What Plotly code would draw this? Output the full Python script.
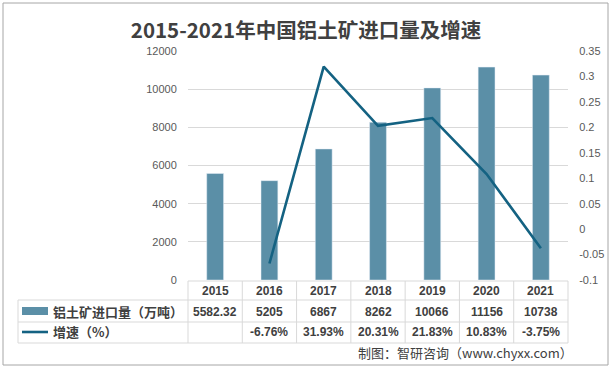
import plotly.graph_objects as go

years = ["2015", "2016", "2017", "2018", "2019", "2020", "2021"]
imports = [5582.32, 5205, 6867, 8262, 10066, 11156, 10738]
growth = [None, -0.0676, 0.3193, 0.2031, 0.2183, 0.1083, -0.0375]
series_names = ["铝土矿进口量（万吨）", "增速（%）"]
title_text = "2015-2021年中国铝土矿进口量及增速"
source_text = "制图：智研咨询（www.chyxx.com）"
y2_ticks = [0.35, 0.3, 0.25, 0.2, 0.15, 0.1, 0.05, 0, -0.05, -0.1]

W, H = 612, 370
L, R, T, B = 188, 568, 51, 280  # plot area in pixels

BAR_C = "#5B8FA7"
LINE_C = "#146282"
GRID_C = "#D9D9D9"
TXT_C = "#404040"
FONT = "Liberation Sans, Noto Sans CJK SC, sans-serif"
CJK = "Noto Sans CJK SC, sans-serif"


def px(xp):
    return (xp - L) / (R - L)


def py(yp):
    return (B - yp) / (B - T)


xs = list(range(len(years)))
fig = go.Figure()
fig.add_trace(go.Bar(x=xs, y=imports, marker_color=BAR_C, width=0.31,
                     name=series_names[0], yaxis="y"))
fig.add_trace(go.Scatter(x=xs, y=growth, mode="lines", line=dict(color=LINE_C, width=2.6),
                         name=series_names[1], yaxis="y2", connectgaps=False))

shapes = []
line_style = dict(color=GRID_C, width=1)
for y_line, x_start in [(281, L), (300, 18), (322, 18), (343, 18)]:
    shapes.append(dict(type="line", xref="paper", yref="paper", x0=px(x_start), x1=px(R),
                       y0=py(y_line), y1=py(y_line), line=line_style))
for i in range(len(years) + 1):
    xp = L + i * (R - L) / len(years)
    shapes.append(dict(type="line", xref="paper", yref="paper", x0=px(xp), x1=px(xp),
                       y0=py(281), y1=py(343), line=line_style))
shapes.append(dict(type="line", xref="paper", yref="paper", x0=px(18), x1=px(18),
                   y0=py(300), y1=py(343), line=line_style))
shapes.append(dict(type="rect", xref="paper", yref="paper", x0=px(22), x1=px(48),
                   y0=py(315), y1=py(307), fillcolor=BAR_C, line=dict(width=0)))
shapes.append(dict(type="line", xref="paper", yref="paper", x0=px(22), x1=px(48),
                   y0=py(332), y1=py(332), line=dict(color=LINE_C, width=2.6)))
shapes.append(dict(type="rect", xref="paper", yref="paper", x0=px(3), x1=px(608),
                   y0=py(365), y1=py(3), line=dict(color="#A6A6A6", width=1)))

ann = []
for i, yr in enumerate(years):
    ann.append(dict(x=i, xref="x", y=py(291), yref="paper", yanchor="middle",
                    text=f"<b>{yr}</b>",
                    showarrow=False, font=dict(size=12, color=TXT_C, family=FONT)))
    ann.append(dict(x=i, xref="x", y=py(312), yref="paper", yanchor="middle",
                    text=f"<b>{imports[i]:g}</b>",
                    showarrow=False, font=dict(size=12, color=TXT_C, family=FONT)))
    if growth[i] is not None:
        ann.append(dict(x=i, xref="x", y=py(332), yref="paper", yanchor="middle",
                        text=f"<b>{growth[i]*100:.2f}%</b>",
                        showarrow=False, font=dict(size=12, color=TXT_C, family=FONT)))
ann.append(dict(x=px(51), xref="paper", y=py(311), yref="paper", yanchor="middle",
                text=f"<b>{series_names[0]}</b>",
                xanchor="left", showarrow=False, font=dict(size=13, color=TXT_C, family=CJK)))
ann.append(dict(x=px(51), xref="paper", y=py(331), yref="paper", yanchor="middle",
                text=f"<b>{series_names[1]}</b>",
                xanchor="left", showarrow=False, font=dict(size=13, color=TXT_C, family=CJK)))
ann.append(dict(x=px(575), xref="paper", y=py(352), yref="paper", yanchor="middle",
                text=source_text,
                xanchor="right", showarrow=False, font=dict(size=13, color=TXT_C, family=CJK)))

fig.update_layout(
    width=W, height=H,
    margin=dict(l=L, r=W - R, t=T, b=H - B, pad=0, autoexpand=False),
    paper_bgcolor="white", plot_bgcolor="white",
    showlegend=False,
    title=dict(text=f"<b>{title_text}</b>", x=0.5, xref="container", xanchor="center",
               y=1 - 31 / H, yanchor="middle",
               font=dict(size=20.5, color=TXT_C, family=CJK)),
    xaxis=dict(range=[-0.5, len(years) - 0.5], showticklabels=False, showgrid=False,
               zeroline=False, showline=False, ticks="", automargin=False),
    yaxis=dict(range=[0, 12000], dtick=2000, tickformat="d", showgrid=True, gridcolor=GRID_C,
               gridwidth=1, zeroline=False, showline=False, ticks="outside", ticklen=8,
               tickcolor="rgba(0,0,0,0)", automargin=False,
               tickfont=dict(size=11, color="#595959", family=FONT)),
    yaxis2=dict(range=[-0.1, 0.35], overlaying="y", side="right", showgrid=False,
                zeroline=False, showline=False, ticks="outside", ticklen=8,
                tickcolor="rgba(0,0,0,0)", automargin=False,
                tickvals=y2_ticks, ticktext=[f"{v:g}" for v in y2_ticks],
                tickfont=dict(size=11, color="#595959", family=FONT)),
    shapes=shapes, annotations=ann,
)
fig.write_html("out.html", config={"displayModeBar": False},
               post_script="document.body.style.margin='0';")
